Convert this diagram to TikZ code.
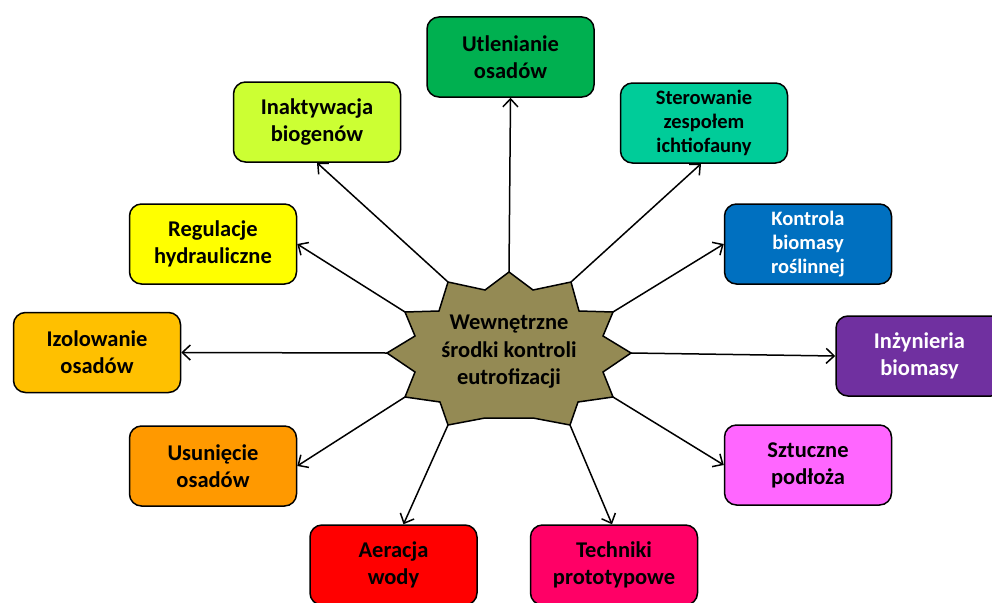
\documentclass[tikz,border=0pt]{standalone}
\usepackage{fontspec}
\setmainfont{Carlito}
\usetikzlibrary{arrows.meta}
\definecolor{cUtl}{HTML}{00B050}
\definecolor{cSter}{HTML}{00CC99}
\definecolor{cKon}{HTML}{0070C0}
\definecolor{cInz}{HTML}{7030A0}
\definecolor{cSzt}{HTML}{FF66FF}
\definecolor{cTech}{HTML}{FF0066}
\definecolor{cAer}{HTML}{FF0000}
\definecolor{cUsu}{HTML}{FF9900}
\definecolor{cIzo}{HTML}{FFC000}
\definecolor{cReg}{HTML}{FFFF00}
\definecolor{cIna}{HTML}{CCFF33}
\definecolor{cStar}{HTML}{948A54}
\tikzset{
  boxnode/.style={draw=black, line width=1.5pt, rounded corners=12pt,
    minimum width=167pt, minimum height=80pt, align=center, inner sep=0pt,
    font=\bfseries\fontsize{22.5}{27}\selectfont},
  threeline/.style={font=\bfseries\fontsize{20.5}{24}\selectfont},
  conn/.style={line width=1.5pt, -{Straight Barb[length=8pt,width=15pt,line width=1.5pt]}}
}
\begin{document}
\begin{tikzpicture}[x=1pt,y=-1pt]
\useasboundingbox (0,0) rectangle (992,602);
\fill[white] (0,0) rectangle (992,602);
\clip (0,0) rectangle (992,602);
% boxes
\node[boxnode, fill=cUtl] (utl) at (510.5,57) {Utlenianie\\osadów};
\node[boxnode, threeline, fill=cSter] (ster) at (704,123) {Sterowanie\\zespołem\\ichtiofauny};
\node[boxnode, threeline, fill=cKon, text=white] (kon) at (808,244) {Kontrola\\biomasy\\roślinnej};
\node[boxnode, fill=cInz, text=white] (inz) at (919.5,356) {Inżynieria\\biomasy};
\node[boxnode, fill=cSzt] (szt) at (808,465) {Sztuczne\\podłoża};
\node[boxnode, fill=cTech] (tech) at (614,565) {Techniki\\prototypowe};
\node[boxnode, fill=cAer] (aer) at (393.5,565) {Aeracja\\wody};
\node[boxnode, fill=cUsu] (usu) at (213,466) {Usunięcie\\osadów};
\node[boxnode, fill=cIzo] (izo) at (97,352.5) {Izolowanie\\osadów};
\node[boxnode, fill=cReg] (reg) at (213,244) {Regulacje\\hydrauliczne};
\node[boxnode, fill=cIna] (ina) at (317,122) {Inaktywacja\\biogenów};
% star vertices
\coordinate (t) at (509,272);
\coordinate (o1) at (571,282);
\coordinate (o2) at (613,312);
\coordinate (o3) at (631,353);
\coordinate (o4) at (613,397);
\coordinate (o5) at (570,425);
\coordinate (o6) at (448,425);
\coordinate (o7) at (405,397);
\coordinate (o8) at (387,353);
\coordinate (o9) at (405,312);
\coordinate (o10) at (448,282);
% connectors
\draw[conn] (t) -- (utl.south);
\draw[conn] (o1) -- ([xshift=-3pt]ster.south);
\draw[conn] (o2) -- (kon.west);
\draw[conn] (o3) -- (inz.west);
\draw[conn] (o4) -- (szt.west);
\draw[conn] (o5) -- ([xshift=-2pt]tech.north);
\draw[conn] (o6) -- ([xshift=10pt]aer.north);
\draw[conn] (o7) -- (usu.east);
\draw[conn] (o8) -- (izo.east);
\draw[conn] (o9) -- (reg.east);
\draw[conn] (o10) -- (ina.south);
% star
\draw[fill=cStar, line width=1.5pt, line join=miter]
  (t) -- (533,290) -- (o1) -- (579,311) -- (o2) -- (603,336) -- (o3)
  -- (603,372) -- (o4) -- (578,402) -- (o5) -- (533,418) -- (485,418)
  -- (o6) -- (440,402) -- (o7) -- (415,372) -- (o8) -- (415,336)
  -- (o9) -- (439,311) -- (o10) -- (485,290) -- cycle;
\node[align=center, font=\bfseries\fontsize{22.5}{27.5}\selectfont] (ctr) at (509,352) {Wewnętrzne\\środki kontroli\\eutrofizacji};
\end{tikzpicture}
\end{document}
